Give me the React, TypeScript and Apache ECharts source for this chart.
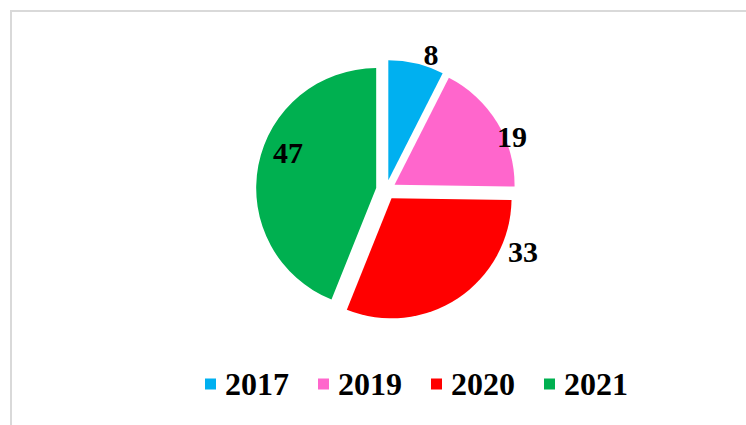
import React, { useEffect, useRef } from "react";
import * as echarts from "echarts";

const categories = ["2017", "2019", "2020", "2021"];
const values = [8, 19, 33, 47];
const colors = ["#00B0F0", "#FF66CC", "#FF0000", "#00B050"];
// label placement (polar, relative to pie centre): distance (px), angle clockwise from top (deg)
const labelDistances = [143, 137, 150, 105];
const labelAngles = [18.3, 66.8, 114, 291.2];

const CX = 386;
const CY = 190;

export default function App() {
  const ref = useRef<HTMLDivElement>(null);
  useEffect(() => {
    if (!ref.current) return;
    const chart = echarts.init(ref.current, null, { renderer: "svg" });
    chart.setOption({
      animation: false,
      backgroundColor: "#ffffff",
      graphic: [
        {
          type: "rect",
          shape: { x: 11, y: 11, width: 800, height: 500 },
          style: { fill: "none", stroke: "#d9d9d9", lineWidth: 2 },
          silent: true,
        },
      ],
      polar: { center: [CX, CY], radius: 200 },
      angleAxis: {
        type: "value",
        min: 0,
        max: 360,
        startAngle: 90,
        clockwise: true,
        show: false,
      },
      radiusAxis: { type: "value", min: 0, max: 200, show: false },
      legend: {
        data: categories,
        left: 200,
        top: 362,
        icon: "rect",
        itemWidth: 11,
        itemHeight: 11,
        itemGap: 29,
        selectedMode: false,
        textStyle: {
          fontFamily: "Liberation Serif",
          fontWeight: "bold",
          fontSize: 32,
          lineHeight: 34,
          color: "#000",
          padding: [0, 0, 0, 4],
        },
      },
      series: [
        {
          type: "pie",
          center: [CX, CY],
          radius: [0, 120],
          startAngle: 90,
          clockwise: true,
          selectedMode: "multiple",
          selectedOffset: 10,
          silent: true,
          emphasis: { disabled: true },
          labelLine: { show: false },
          label: { show: false },
          data: categories.map((c, i) => ({
            name: c,
            value: values[i],
            selected: true,
            itemStyle: { color: colors[i] },
          })),
        },
        {
          type: "scatter",
          coordinateSystem: "polar",
          symbolSize: 0,
          silent: true,
          itemStyle: { opacity: 1, color: "transparent" },
          label: {
            show: true,
            position: "inside",
            formatter: (p: any) => String(values[p.dataIndex]),
            fontFamily: "Liberation Serif",
            fontWeight: "bold",
            fontSize: 30,
            color: "#000000",
            textBorderWidth: 0,
            opacity: 1,
          },
          data: labelDistances.map((d, i) => [d, labelAngles[i]]),
        },
      ],
    });
    return () => chart.dispose();
  }, []);
  return (
    <div
      ref={ref}
      style={{ position: "fixed", left: 0, top: 0, width: 746, height: 425 }}
    />
  );
}
